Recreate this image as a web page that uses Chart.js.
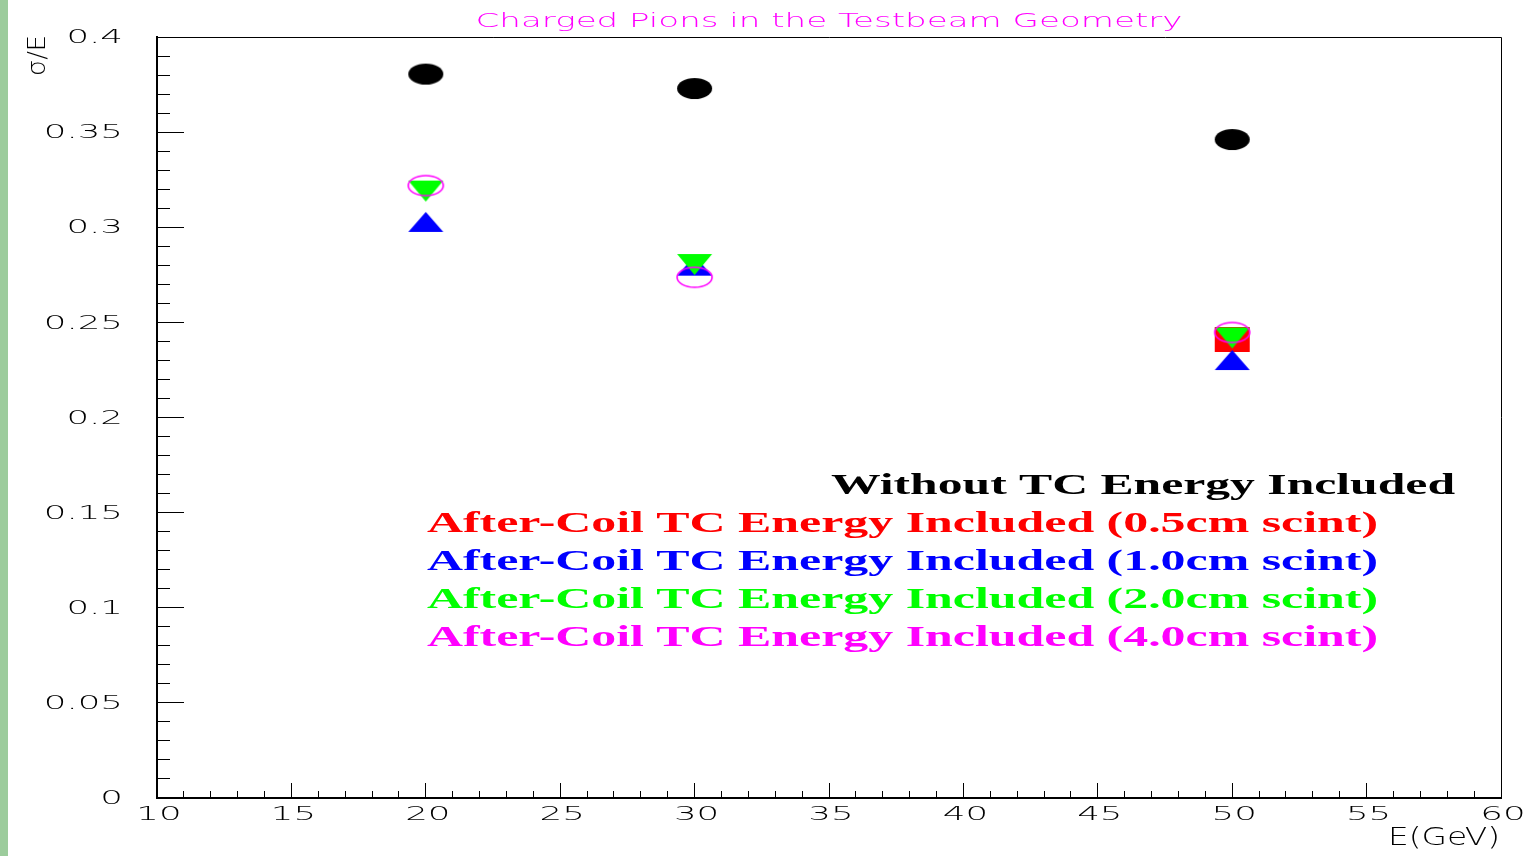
<!DOCTYPE html>
<html>
<head>
<meta charset="utf-8">
<script src="https://cdn.jsdelivr.net/npm/chart.js@4.4.0/dist/chart.umd.min.js"></script>
<style>
    body { margin: 0; background: #fff; }
    #wrap { position: relative; width: 1524px; height: 856px; }
    #strip { position: absolute; left: 0; top: 0; width: 8px; height: 856px; background: #9ccc9c; }
</style>
</head>
<body>
<div id="wrap">
    <canvas id="resChart"></canvas>
    <div id="strip"></div>
</div>
<script>
// beam energies (GeV)
const energies = [20, 30, 50];

// sigma/E values per configuration
const withoutTC = [0.3805, 0.3729, 0.3461];
const scint05 = [null, null, 0.2410];
const scint10 = [0.3028, 0.2798, 0.2302];
const scint20 = [0.3190, 0.2804, 0.2418];
const scint40 = [0.3219, 0.2737, 0.2447];

const xTickLabels = ['10', '15', '20', '25', '30', '35', '40', '45', '50', '55', '60'];
const yTickLabels = ['0', '0.05', '0.1', '0.15', '0.2', '0.25', '0.3', '0.35', '0.4'];

const chartTitle = 'Charged Pions in the Testbeam Geometry';
const xTitle = 'E(GeV)';
const yTitle = 'σ/E';
const legendLines = [
    'Without TC Energy Included',
    'After-Coil TC Energy Included (0.5cm scint)',
    'After-Coil TC Energy Included (1.0cm scint)',
    'After-Coil TC Energy Included (2.0cm scint)',
    'After-Coil TC Energy Included (4.0cm scint)'
];

function toPoints(values) {
    const pts = [];
    values.forEach((v, i) => {
        if (v !== null) pts.push({ x: energies[i], y: v });
    });
    return pts;
}

// marker images, stretched like the original picture
function makeMarker(kind, color, w, h) {
    const c = document.createElement('canvas');
    c.width = w + 4;
    c.height = h + 4;
    const g = c.getContext('2d');
    const cx = c.width / 2, cy = c.height / 2;
    g.fillStyle = color;
    g.strokeStyle = color;
    g.beginPath();
    if (kind === 'ellipse' || kind === 'openEllipse') {
        g.ellipse(cx, cy, w / 2, h / 2, 0, 0, Math.PI * 2);
    } else if (kind === 'rect') {
        g.rect(cx - w / 2, cy - h / 2, w, h);
    } else if (kind === 'up') {
        g.moveTo(cx, cy - h / 2);
        g.lineTo(cx + w / 2, cy + h / 2);
        g.lineTo(cx - w / 2, cy + h / 2);
        g.closePath();
    } else if (kind === 'down') {
        g.moveTo(cx - w / 2, cy - h / 2);
        g.lineTo(cx + w / 2, cy - h / 2);
        g.lineTo(cx, cy + h / 2);
        g.closePath();
    }
    if (kind === 'openEllipse') {
        g.lineWidth = 1.6;
        g.stroke();
    } else {
        g.fill();
    }
    return c;
}

function isMajor(value, step) {
    const r = value / step;
    return Math.abs(r - Math.round(r)) < 1e-6;
}

function drawStretched(ctx, text, x, y, font, color, width, align) {
    ctx.save();
    ctx.font = font;
    const w = ctx.measureText(text).width;
    const sx = width / w;
    ctx.translate(x, y);
    ctx.scale(sx, 1);
    ctx.fillStyle = color;
    ctx.textAlign = align;
    ctx.textBaseline = 'alphabetic';
    ctx.fillText(text, 0, 0);
    ctx.restore();
}

const textPlugin = {
    id: 'rootText',
    afterDraw(chart) {
        const ctx = chart.ctx;
        const area = chart.chartArea;
        const xs = chart.scales.x, ys = chart.scales.y;

        // frame on top/right
        ctx.save();
        ctx.strokeStyle = '#000';
        ctx.lineWidth = 1;
        ctx.beginPath();
        ctx.moveTo(area.left, area.top + 0.5);
        ctx.lineTo(area.right + 0.5, area.top + 0.5);
        ctx.lineTo(area.right + 0.5, area.bottom);
        ctx.stroke();
        ctx.restore();

        const tickFont = "200 20px 'DejaVu Sans'";
        const sx = 1.78;

        // y tick labels
        yTickLabels.forEach(lab => {
            const py = ys.getPixelForValue(Number(lab));
            ctx.save();
            ctx.font = tickFont;
            ctx.fillStyle = '#000';
            ctx.textAlign = 'right';
            ctx.textBaseline = 'middle';
            ctx.translate(123, py + 1);
            ctx.scale(sx, 1);
            ctx.fillText(lab, 0, 0);
            ctx.restore();
        });

        // x tick labels
        xTickLabels.forEach(lab => {
            const px = xs.getPixelForValue(Number(lab));
            ctx.save();
            ctx.font = tickFont;
            ctx.fillStyle = '#000';
            ctx.textAlign = 'center';
            ctx.textBaseline = 'middle';
            ctx.translate(px + 2, 815);
            ctx.scale(sx, 1);
            ctx.fillText(lab, 0, 0);
            ctx.restore();
        });

        // axis titles
        drawStretched(ctx, xTitle, 1500, 845, "200 24px 'DejaVu Sans'", '#000', 112, 'right');
        ctx.save();
        ctx.translate(45, 76);
        ctx.rotate(-Math.PI / 2);
        drawStretched(ctx, yTitle, 0, 0, "200 25px 'DejaVu Sans'", '#000', 41, 'left');
        ctx.restore();

        // title
        drawStretched(ctx, chartTitle, 829, 27, "200 20px 'DejaVu Sans'", '#ff00ff', 707, 'center');

        // legend text
        const legendFont = "bold 30px 'Liberation Serif'";
        drawStretched(ctx, legendLines[0], 831, 494, legendFont, '#000000', 624, 'left');
        drawStretched(ctx, legendLines[1], 427, 532, legendFont, '#ff0000', 951, 'left');
        drawStretched(ctx, legendLines[2], 427, 570, legendFont, '#0000ff', 951, 'left');
        drawStretched(ctx, legendLines[3], 427, 608, legendFont, '#00ff00', 951, 'left');
        drawStretched(ctx, legendLines[4], 427, 646, legendFont, '#ff00ff', 951, 'left');
    }
};

const ctx = document.getElementById('resChart').getContext('2d');
const resChart = new Chart(ctx, {
    type: 'scatter',
    data: {
        datasets: [
            { label: legendLines[0], data: toPoints(withoutTC), pointStyle: makeMarker('ellipse', '#000000', 35, 21), pointRadius: 10, order: 5 },
            { label: legendLines[1], data: toPoints(scint05), pointStyle: makeMarker('rect', '#ff0000', 35, 25), pointRadius: 10, order: 4 },
            { label: legendLines[2], data: toPoints(scint10), pointStyle: makeMarker('up', '#0000ff', 35, 20), pointRadius: 10, order: 3 },
            { label: legendLines[3], data: toPoints(scint20), pointStyle: makeMarker('down', '#00ff00', 35, 21), pointRadius: 10, order: 2 },
            { label: legendLines[4], data: toPoints(scint40), pointStyle: makeMarker('openEllipse', '#ff00ff', 35, 20), pointRadius: 10, order: 1 }
        ]
    },
    options: {
        responsive: true,
        maintainAspectRatio: false,
        animation: false,
        layout: { padding: { top: 37, right: 23, left: 0, bottom: 0 } },
        plugins: {
            legend: { display: false },
            title: { display: false },
            tooltip: { enabled: false }
        },
        scales: {
            x: {
                type: 'linear',
                min: 10,
                max: 60,
                afterFit: (scale) => { scale.height = 58; },
                ticks: { display: false, stepSize: 1, autoSkip: false },
                border: { display: true, color: '#000', width: 2 },
                grid: {
                    drawOnChartArea: false,
                    tickLength: -15,
                    tickColor: '#000',
                    tickWidth: 1,
                    tickBorderDash: (c) => isMajor(c.tick.value, 5) ? [] : [8, 30],
                    tickBorderDashOffset: 0
                }
            },
            y: {
                type: 'linear',
                min: 0,
                max: 0.4,
                afterFit: (scale) => { scale.width = 157; },
                ticks: { display: false, stepSize: 0.01, autoSkip: false },
                border: { display: true, color: '#000', width: 2 },
                grid: {
                    drawOnChartArea: false,
                    tickLength: -27,
                    tickColor: '#000',
                    tickWidth: 1,
                    tickBorderDash: (c) => isMajor(c.tick.value, 0.05) ? [] : [14, 14],
                    tickBorderDashOffset: (c) => isMajor(c.tick.value, 0.05) ? 0 : 14
                }
            }
        }
    },
    plugins: [textPlugin]
});
</script>
</body>
</html>
